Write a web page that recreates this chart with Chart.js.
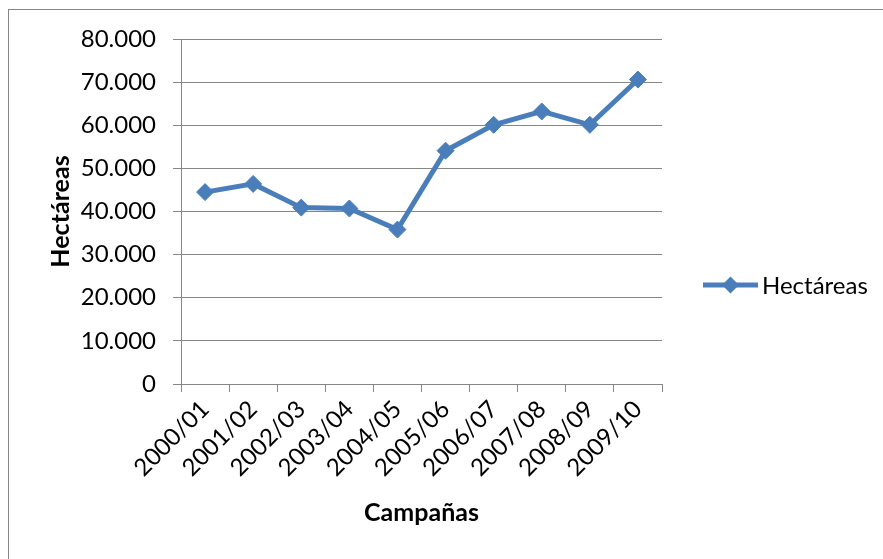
<!DOCTYPE html>
<html>
<head>
<meta charset="utf-8">
<script src="https://cdn.jsdelivr.net/npm/chart.js@4.4.1/dist/chart.umd.min.js"></script>
<style>
  html, body { margin: 0; padding: 0; background: #fff; overflow: hidden; }
  #wrap { position: relative; width: 883px; height: 559px; }
  #frame { position: absolute; left: 8px; top: 9px; width: 1000px; height: 1000px;
           border-top: 1px solid #868686; border-left: 1px solid #868686; }
  canvas { position: absolute; left: 0; top: 0; }
</style>
</head>
<body>
<div id="wrap">
  <div id="frame"></div>
  <canvas id="chart" width="883" height="559"></canvas>
</div>
<script>
const campanas = ['2000/01', '2001/02', '2002/03', '2003/04', '2004/05',
                  '2005/06', '2006/07', '2007/08', '2008/09', '2009/10']
const hectareas = [44500, 46400, 40900, 40700, 35800, 54100, 60100, 63200, 60100, 70600]
const yMin = 0
const yMax = 80000
const yStep = 10000

const blue = '#4a7ebb'
const gridGray = '#868686'
const font = 'Lato'

// miles con punto: 80.000
function fmt(v) {
  return String(v).replace(/\B(?=(\d{3})+(?!\d))/g, '.')
}

// leyenda a la derecha: linea + rombo + texto
const sideLegend = {
  id: 'sideLegend',
  afterDraw(chart) {
    const ds = chart.data.datasets[0]
    const ctx = chart.ctx
    const y = 285, x0 = 703, x1 = 758, cx = 730.5, r = 8.5
    ctx.save()
    ctx.strokeStyle = ds.borderColor
    ctx.lineWidth = ds.borderWidth
    ctx.beginPath()
    ctx.moveTo(x0, y)
    ctx.lineTo(x1, y)
    ctx.stroke()
    ctx.fillStyle = ds.pointBackgroundColor
    ctx.beginPath()
    ctx.moveTo(cx - r, y)
    ctx.lineTo(cx, y - r)
    ctx.lineTo(cx + r, y)
    ctx.lineTo(cx, y + r)
    ctx.closePath()
    ctx.fill()
    ctx.fillStyle = '#000'
    ctx.font = '24px ' + font
    ctx.textBaseline = 'middle'
    ctx.fillText(ds.label, 762, y + 1)
    ctx.restore()
  }
}

new Chart(document.getElementById('chart'), {
  type: 'line',
  data: {
    labels: campanas,
    datasets: [{
      label: 'Hectáreas',
      data: hectareas,
      borderColor: blue,
      backgroundColor: blue,
      borderWidth: 5,
      pointStyle: 'rectRot',
      pointRadius: 8.5,
      pointBackgroundColor: blue,
      pointBorderColor: blue,
      pointBorderWidth: 1,
      tension: 0
    }]
  },
  options: {
    responsive: false,
    animation: false,
    layout: { padding: { top: 39, right: 221, bottom: 0, left: 0 } },
    plugins: {
      legend: { display: false },
      tooltip: { enabled: false }
    },
    scales: {
      x: {
        offset: true,
        afterFit(scale) { scale.height = 175 },
        grid: {
          offset: true,
          drawOnChartArea: false,
          drawTicks: true,
          tickLength: 8,
          color: gridGray
        },
        border: { color: gridGray, width: 1 },
        ticks: {
          color: '#000',
          font: { family: font, size: 24 },
          minRotation: 45,
          maxRotation: 45,
          padding: 3,
          autoSkip: false
        },
        title: {
          display: true,
          text: 'Campañas',
          color: '#000',
          font: { family: font, size: 25, weight: 'bold', lineHeight: 1.2 },
          padding: { top: 0, bottom: 31 }
        }
      },
      y: {
        min: yMin,
        max: yMax,
        afterFit(scale) { scale.width = 181 },
        grid: {
          color: gridGray,
          tickLength: 8,
          lineWidth: 1
        },
        border: { color: gridGray, width: 1 },
        ticks: {
          stepSize: yStep,
          color: '#000',
          font: { family: font, size: 24 },
          padding: 17,
          callback: (v) => fmt(v)
        },
        title: {
          display: true,
          text: 'Hectáreas',
          color: '#000',
          font: { family: font, size: 25, weight: 'bold', lineHeight: 1.2 },
          padding: { top: 46, bottom: 0 }
        }
      }
    }
  },
  plugins: [sideLegend]
})
</script>
</body>
</html>
